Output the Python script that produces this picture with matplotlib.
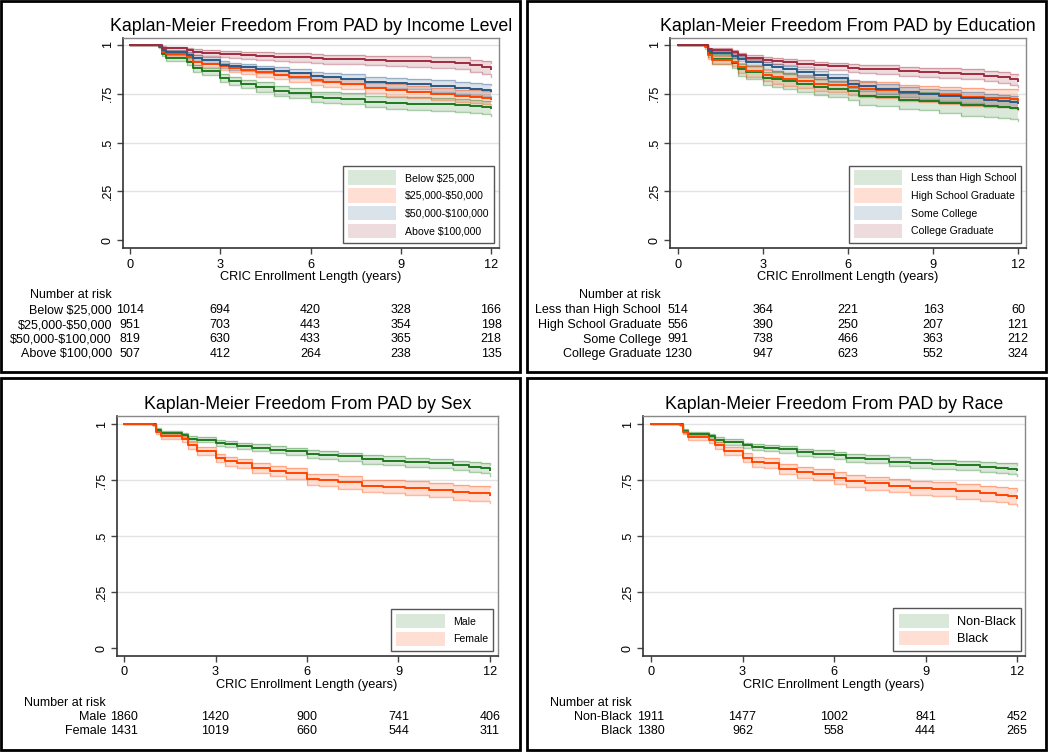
import matplotlib
matplotlib.use('Agg')
import matplotlib.pyplot as plt
import matplotlib.transforms as mtransforms
from matplotlib.patches import Patch, Rectangle

plt.rcParams['font.family'] = ['Liberation Sans', 'DejaVu Sans']

W, H = 1050, 752

# step times (years), shared by all curves
t_grid = [0, 0.95, 1.05, 1.2, 1.9, 2.1, 2.4, 3.0, 3.3, 3.7, 4.2, 4.8, 5.3, 6.0, 6.4, 7.0, 7.8, 8.5, 9.2, 10.0, 10.8, 11.3, 11.7, 12.0]
xticks = [0, 3, 6, 9, 12]
yticks = [0, 0.25, 0.5, 0.75, 1]
ytick_labels = ['0', '.25', '.5', '.75', '1']
xlabel = 'CRIC Enrollment Length (years)'

# ---- income ----
inc_labels = ['Below \\$25,000', '\\$25,000-\\$50,000', '\\$50,000-\\$100,000', 'Above \\$100,000']
inc_s = [
    [1, .99, .955, .935, .915, .88, .865, .83, .815, .80, .785, .765, .755, .735, .73, .725, .71, .705, .70, .695, .69, .685, .68, .675],
    [1, .995, .965, .955, .94, .915, .905, .89, .88, .87, .86, .848, .835, .82, .81, .80, .78, .77, .76, .75, .74, .735, .73, .725],
    [1, .997, .975, .965, .95, .935, .925, .90, .89, .885, .875, .865, .855, .84, .835, .825, .81, .805, .80, .79, .78, .775, .77, .765],
    [1, 1, .985, .983, .975, .965, .96, .955, .952, .948, .945, .94, .938, .932, .93, .927, .922, .92, .917, .913, .91, .895, .885, .875]]
inc_lo = [
    [1, .984, .942, .92, .898, .861, .845, .809, .793, .777, .761, .740, .729, .708, .702, .696, .68, .674, .668, .662, .656, .65, .644, .636],
    [1, .99, .953, .941, .925, .898, .887, .871, .86, .849, .838, .825, .811, .795, .784, .773, .752, .741, .73, .719, .708, .702, .696, .69],
    [1, .993, .964, .953, .936, .92, .909, .883, .872, .866, .855, .844, .833, .817, .811, .80, .784, .778, .772, .761, .75, .744, .738, .731],
    [1, .998, .973, .97, .96, .948, .942, .936, .932, .928, .924, .918, .915, .908, .905, .901, .895, .892, .888, .883, .878, .861, .849, .835]]
inc_hi = [
    [1, .996, .967, .949, .931, .898, .884, .85, .836, .822, .808, .789, .780, .761, .757, .753, .739, .735, .731, .727, .723, .719, .715, .712],
    [1, .999, .976, .967, .954, .931, .922, .908, .899, .89, .881, .87, .858, .844, .835, .826, .807, .798, .789, .78, .771, .767, .763, .759],
    [1, 1, .985, .976, .963, .95, .94, .917, .907, .903, .894, .885, .876, .862, .858, .849, .835, .831, .827, .818, .809, .805, .801, .797],
    [1, 1, .993, .992, .986, .978, .974, .97, .968, .965, .962, .958, .957, .952, .951, .949, .945, .944, .942, .939, .937, .925, .917, .908]]
inc_risk = [[1014, 694, 420, 328, 166], [951, 703, 443, 354, 198], [819, 630, 433, 365, 218], [507, 412, 264, 238, 135]]

# ---- education ----
edu_labels = ['Less than High School', 'High School Graduate', 'Some College', 'College Graduate']
edu_s = [
    [1, .995, .96, .93, .91, .875, .86, .83, .825, .815, .80, .785, .775, .765, .74, .735, .72, .715, .705, .69, .685, .68, .675, .67],
    [1, .99, .95, .925, .915, .885, .865, .845, .835, .825, .815, .80, .795, .785, .775, .77, .755, .75, .745, .735, .73, .73, .725, .72],
    [1, 1, .97, .96, .945, .93, .915, .895, .885, .875, .86, .845, .83, .80, .79, .775, .76, .75, .74, .73, .72, .715, .71, .705],
    [1, 1, .98, .975, .965, .95, .935, .925, .92, .915, .905, .897, .89, .883, .878, .875, .865, .86, .857, .85, .84, .835, .825, .815]]
edu_lo = [
    [1, .988, .94, .905, .882, .843, .826, .793, .787, .776, .759, .742, .731, .72, .694, .688, .671, .665, .653, .636, .63, .624, .618, .612],
    [1, .982, .93, .902, .89, .857, .835, .813, .802, .791, .78, .763, .757, .746, .735, .729, .712, .706, .70, .688, .682, .681, .675, .668],
    [1, .998, .96, .949, .932, .916, .90, .878, .867, .856, .84, .824, .808, .777, .766, .75, .734, .723, .712, .701, .69, .684, .678, .672],
    [1, .998, .972, .966, .955, .938, .922, .911, .905, .899, .888, .879, .871, .863, .857, .853, .842, .836, .832, .824, .813, .807, .796, .784]]
edu_hi = [
    [1, 1, .975, .952, .934, .903, .89, .863, .859, .85, .837, .824, .815, .806, .782, .778, .764, .76, .752, .739, .735, .731, .727, .723],
    [1, .997, .966, .945, .936, .91, .892, .874, .865, .856, .847, .834, .83, .821, .812, .808, .795, .791, .787, .779, .775, .776, .772, .768],
    [1, 1, .979, .971, .957, .943, .929, .911, .902, .893, .879, .865, .851, .822, .813, .799, .785, .776, .767, .758, .749, .745, .741, .737],
    [1, 1, .987, .983, .975, .961, .947, .938, .934, .93, .921, .914, .908, .902, .898, .896, .887, .883, .881, .875, .866, .862, .853, .845]]
edu_risk = [[514, 364, 221, 163, 60], [556, 390, 250, 207, 121], [991, 738, 466, 363, 212], [1230, 947, 623, 552, 324]]

# ---- sex ----
sex_labels = ['Male', 'Female']
sex_s = [
    [1, .998, .975, .96, .952, .935, .93, .915, .91, .903, .895, .885, .878, .866, .862, .855, .842, .837, .83, .825, .815, .81, .805, .795],
    [1, .997, .965, .945, .935, .905, .88, .85, .835, .825, .805, .79, .78, .755, .75, .74, .725, .72, .715, .705, .695, .69, .69, .685]]
sex_lo = [
    [1, .995, .967, .951, .942, .924, .918, .902, .897, .889, .88, .869, .862, .849, .845, .837, .823, .818, .81, .804, .793, .787, .781, .77],
    [1, .993, .955, .932, .921, .889, .862, .83, .814, .803, .782, .766, .755, .729, .723, .712, .696, .69, .684, .673, .662, .656, .655, .648]]
sex_hi = [
    [1, 1, .982, .968, .961, .946, .941, .927, .923, .916, .909, .90, .894, .882, .879, .872, .86, .856, .849, .845, .836, .832, .828, .819],
    [1, 1, .974, .956, .947, .919, .896, .868, .854, .845, .826, .812, .803, .779, .775, .766, .752, .748, .744, .735, .726, .722, .723, .72]]
sex_risk = [[1860, 1420, 900, 741, 406], [1431, 1019, 660, 544, 311]]

# ---- race ----
race_labels = ['Non-Black', 'Black']
race_s = [
    [1, .998, .97, .955, .945, .93, .92, .905, .898, .892, .887, .875, .868, .86, .85, .845, .832, .825, .82, .815, .808, .805, .80, .795],
    [1, .997, .965, .94, .93, .905, .88, .85, .83, .825, .80, .785, .775, .76, .745, .735, .725, .715, .71, .70, .69, .685, .68, .668]]
race_lo = [
    [1, .995, .962, .946, .935, .919, .908, .892, .884, .878, .872, .859, .851, .843, .832, .826, .812, .805, .799, .793, .785, .781, .776, .77],
    [1, .993, .954, .927, .916, .888, .861, .829, .808, .802, .776, .76, .749, .733, .717, .706, .695, .684, .678, .667, .656, .65, .644, .632]]
race_hi = [
    [1, 1, .977, .963, .954, .94, .931, .917, .911, .905, .901, .89, .884, .876, .867, .863, .851, .845, .84, .836, .83, .828, .824, .819],
    [1, 1, .975, .952, .943, .921, .898, .87, .851, .847, .823, .809, .80, .786, .772, .763, .754, .745, .741, .732, .723, .719, .715, .703]]
race_risk = [[1911, 1477, 1002, 841, 452], [1380, 962, 558, 444, 265]]

green, orange, blue, maroon = '#1f7a1f', '#ff4500', '#2b5a88', '#a02c40'
cols4 = [green, orange, blue, maroon]
cols2 = [green, orange]

fig = plt.figure(figsize=(W / 100, H / 100), dpi=100)
fig.patch.set_facecolor('white')


def fx(x): return x / W
def fy(y): return 1 - y / H


def panel(frame, x0, x12, y1, y0, title, tbase, labels, S, LO, HI, cols, risk, lab_r, rbase, xtb, xlb, leg_rb, leg_fs, leg_kw):
    l, t, r, b = frame
    ax = fig.add_axes([fx(l), fy(b), (r - l) / W, (b - t) / H])
    kx = (x12 - x0) / 12
    ky = y0 - y1
    ax.set_xlim(-(x0 - l) / kx, 12 + (r - x12) / kx)
    ax.set_ylim(-(b - y0) / ky, 1 + (y1 - t) / ky)
    for yv in yticks[1:]:
        ax.axhline(yv, color='#e3e3e3', lw=1, zorder=0)
    for lo, hi, c in zip(LO, HI, cols):
        ax.fill_between(t_grid, lo, hi, step='post', color=c, alpha=0.17, lw=0)
        ax.step(t_grid, lo, where='post', color=c, alpha=0.38, lw=1)
        ax.step(t_grid, hi, where='post', color=c, alpha=0.38, lw=1)
    for s, c in zip(S, cols):
        ax.step(t_grid, s, where='post', color=c, lw=1.4)
    ax.set_xticks(xticks)
    ax.set_xticklabels([])
    ax.set_yticks(yticks)
    ax.set_yticklabels(ytick_labels, rotation=90, va='center', fontsize=9)
    ax.tick_params(axis='both', direction='out', length=4.5, width=1, color='#444')
    ax.tick_params(axis='y', pad=2)
    for sp in ['left', 'bottom']:
        ax.spines[sp].set_color('#333')
        ax.spines[sp].set_linewidth(1.2)
    for sp in ['top', 'right']:
        ax.spines[sp].set_color('#888')
        ax.spines[sp].set_linewidth(1)
    tr = mtransforms.blended_transform_factory(ax.transData, fig.transFigure)
    for xv in xticks:
        ax.text(xv, fy(xtb), str(xv), transform=tr, ha='center', va='baseline', fontsize=9.2)
    ax.text(6, fy(xlb), xlabel, transform=tr, ha='center', va='baseline', fontsize=9.2)
    fig.text(fx((l + r) / 2), fy(tbase), title, ha='center', va='baseline', fontsize=12.8)
    # number at risk table
    fig.text(fx(lab_r), fy(rbase[0]), 'Number at risk', ha='right', va='baseline', fontsize=9)
    for i, (lab, row) in enumerate(zip(labels, risk)):
        yy = fy(rbase[i + 1])
        fig.text(fx(lab_r), yy, lab, ha='right', va='baseline', fontsize=9)
        for xv, n in zip(xticks, row):
            ax.text(xv, yy, str(n), transform=tr, ha='center', va='baseline', fontsize=9)
    handles = [Patch(facecolor=c, alpha=0.17, edgecolor='none') for c in cols]
    lx = (leg_rb[0] - l) / (r - l)
    ly = (b - leg_rb[1]) / (b - t)
    leg = ax.legend(handles, labels, loc='lower right', bbox_to_anchor=(lx, ly), borderaxespad=0,
                    fontsize=leg_fs, fancybox=False, framealpha=1, edgecolor='#555', **leg_kw)
    leg.get_frame().set_linewidth(1)
    return ax


kw_small = dict(handlelength=4.6, handleheight=1.75, labelspacing=0.3, borderpad=0.45, handletextpad=0.8)
kw_big = dict(handlelength=3.9, handleheight=1.3, labelspacing=0.2, borderpad=0.45, handletextpad=0.6)

panel((123, 38, 499, 248), 130, 491, 45, 240, 'Kaplan-Meier Freedom From PAD by Income Level', 31,
      inc_labels, inc_s, inc_lo, inc_hi, cols4, inc_risk, 112, [298, 313, 328, 342.5, 357], 268, 280,
      (494, 243), 7.6, kw_small)
panel((670, 38, 1026, 248), 678, 1018, 45, 240, 'Kaplan-Meier Freedom From PAD by Education', 31,
      edu_labels, edu_s, edu_lo, edu_hi, cols4, edu_risk, 661, [298, 313, 328, 342.5, 357], 268, 280,
      (1021, 243), 7.6, kw_small)
panel((117, 416, 498, 656), 124, 490, 424, 648, 'Kaplan-Meier Freedom From PAD by Sex', 409,
      sex_labels, sex_s, sex_lo, sex_hi, cols2, sex_risk, 106, [706, 720, 734.5], 675, 688,
      (493, 651), 7.6, kw_small)
panel((643, 416, 1025, 656), 651, 1017, 424, 648, 'Kaplan-Meier Freedom From PAD by Race', 409,
      race_labels, race_s, race_lo, race_hi, cols2, race_risk, 632, [706, 720, 734.5], 675, 688,
      (1021, 651), 9.2, kw_big)

# panel borders
for (l, t, r, b) in [(1, 1, 520, 372), (527, 1, 1046, 372), (1, 378, 520, 750), (527, 378, 1046, 750)]:
    fig.add_artist(Rectangle((fx(l), fy(b)), (r - l) / W, (b - t) / H, transform=fig.transFigure,
                             fill=False, lw=2, edgecolor='black'))

fig.savefig('out.png', dpi=100)
